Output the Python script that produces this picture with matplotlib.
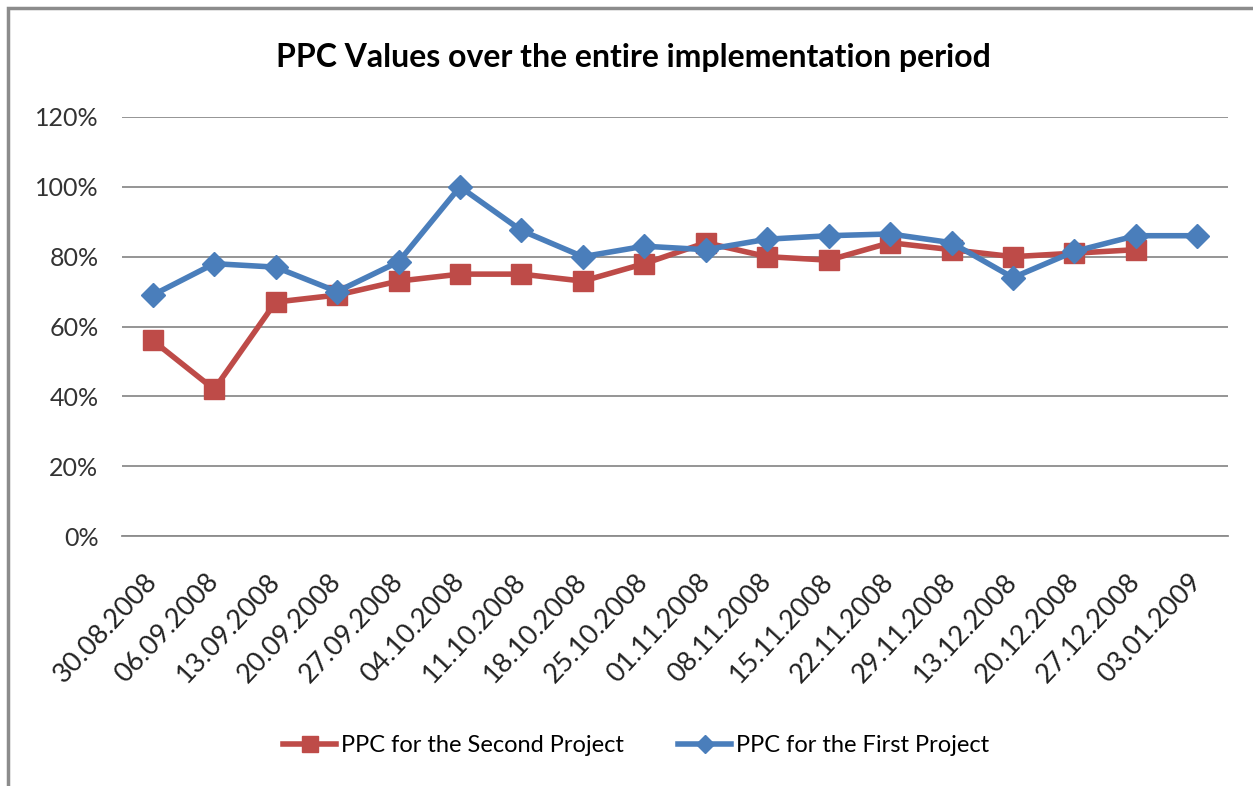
import matplotlib
matplotlib.use("Agg")
import matplotlib.pyplot as plt
from matplotlib.patches import Rectangle
from matplotlib.ticker import FuncFormatter

dates = ["30.08.2008", "06.09.2008", "13.09.2008", "20.09.2008", "27.09.2008",
         "04.10.2008", "11.10.2008", "18.10.2008", "25.10.2008", "01.11.2008",
         "08.11.2008", "15.11.2008", "22.11.2008", "29.11.2008", "13.12.2008",
         "20.12.2008", "27.12.2008", "03.01.2009"]
second_project = [56, 42, 67, 69, 73, 75, 75, 73, 78, 84, 80, 79, 84, 82, 80, 81, 82]
first_project = [69, 78, 77, 70, 78.5, 100, 87.5, 80, 83, 82, 85, 86, 86.5, 84, 74, 81.5, 86, 86]
y_ticks = [0, 20, 40, 60, 80, 100, 120]

plt.rcParams['font.family'] = ['Lato', 'DejaVu Sans']

W, H = 1253, 786
fig = plt.figure(figsize=(W / 100, H / 100), dpi=100)
fig.patch.set_facecolor('white')
ax = fig.add_axes([122 / W, 1 - 536 / H, (1228 - 122) / W, (536 - 117) / H])

# outer frame of the chart area
fig.patches.append(Rectangle((8 / W, -0.2), 1.2, 1.2 - 8 / H, transform=fig.transFigure,
                             fill=False, edgecolor='#8c8c8c', linewidth=2.5, zorder=0))

red = '#be4b48'
blue = '#4a7ebb'
x1 = list(range(len(second_project)))
x2 = list(range(len(first_project)))
ax.plot(x1, second_project, color=red, linewidth=4, marker='s', markersize=14,
        label='PPC for the Second Project', zorder=3)
ax.plot(x2, first_project, color=blue, linewidth=4, marker='D', markersize=12,
        label='PPC for the First Project', zorder=4)

ax.set_xlim(-0.5, len(dates) - 0.5)
ax.set_ylim(0, 120)
ax.set_yticks(y_ticks)
ax.yaxis.set_major_formatter(FuncFormatter(lambda v, p: f"{int(v)}%"))
ax.set_xticks(range(len(dates)))
ax.set_xticklabels(dates, rotation=47, ha='right', va='center',
                   rotation_mode='anchor', fontsize=19.5)
ax.tick_params(axis='y', labelsize=18, length=0, pad=17, colors='#333333')
ax.tick_params(axis='x', length=0, pad=30, colors='#222222')
ax.grid(axis='y', color='#8c8c8c', linewidth=1.3)
ax.set_axisbelow(True)
for s in ax.spines.values():
    s.set_visible(False)
ax.spines['bottom'].set_visible(True)
ax.spines['bottom'].set_color('#8c8c8c')
ax.spines['bottom'].set_linewidth(1.3)

fig.text(633 / W, 1 - 57 / H, 'PPC Values over the entire implementation period',
         ha='center', va='center', fontsize=23, fontweight='bold')

fig.legend(loc='center', bbox_to_anchor=(636 / W, 1 - 746 / H), ncol=2, frameon=False,
           fontsize=17, handlelength=2.25, columnspacing=2.3, handletextpad=0.2,
           markerscale=0.8)

fig.savefig('out.png', dpi=100)
